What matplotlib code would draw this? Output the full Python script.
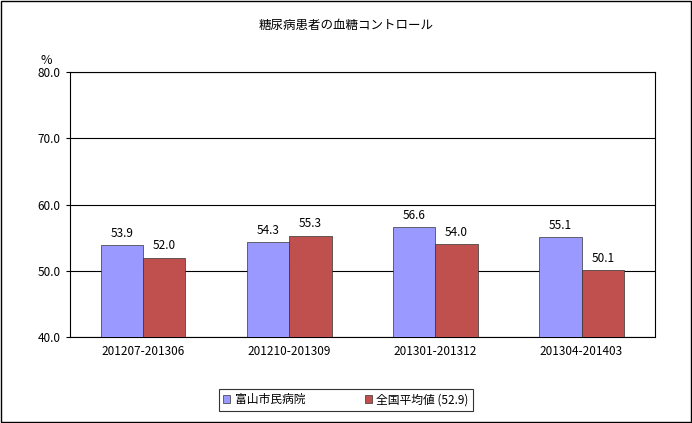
import matplotlib
matplotlib.use("Agg")
import matplotlib.pyplot as plt
import numpy as np
from matplotlib.patches import Rectangle

plt.rcParams["font.family"] = "Noto Sans CJK JP"

categories = ["201207-201306", "201210-201309", "201301-201312", "201304-201403"]
hospital = [53.9, 54.3, 56.6, 55.1]
national = [52.0, 55.3, 54.0, 50.1]
series_names = ["富山市民病院", "全国平均値 (52.9)"]
title = "糖尿病患者の血糖コントロール"

fig = plt.figure(figsize=(6.92, 4.23), dpi=100)
fig.patches.append(Rectangle((0.002, 0.002), 0.996, 0.996, transform=fig.transFigure,
                             fill=False, edgecolor="black", linewidth=1))
ax = fig.add_axes([0.101, 0.203, 0.845, 0.627])
x = np.arange(len(categories))
w = 0.29
b1 = ax.bar(x - w/2, hospital, w, color="#9999FF", edgecolor="#333333", linewidth=0.5, label=series_names[0], zorder=3)
b2 = ax.bar(x + w/2, national, w, color="#C0504D", edgecolor="#333333", linewidth=0.5, label=series_names[1], zorder=3)
for bars, vals in ((b1, hospital), (b2, national)):
    for r, v in zip(bars, vals):
        ax.text(r.get_x() + r.get_width()/2, v + 0.8, f"{v:.1f}", ha="center", va="bottom", fontsize=8.5)
ax.set_ylim(40, 80)
ax.set_xlim(-0.5, 3.5)
ax.set_yticks([40, 50, 60, 70, 80])
ax.set_yticklabels([f"{v:.1f}" for v in [40, 50, 60, 70, 80]], fontsize=8.5)
ax.set_xticks(x)
ax.set_xticklabels(categories, fontsize=8.5)
ax.tick_params(axis="x", length=0, pad=6)
ax.tick_params(axis="y", length=3, direction="out")
ax.yaxis.grid(True, color="black", linewidth=0.8, zorder=0)
for s in ax.spines.values():
    s.set_linewidth(0.8)
ax.text(-0.04, 1.03, "%", transform=ax.transAxes, fontsize=9, ha="center")
fig.text(0.5, 0.94, title, ha="center", va="center", fontsize=9)
leg = fig.legend(loc="center", bbox_to_anchor=(0.5, 0.055), ncol=2, fontsize=8.5,
                 frameon=True, fancybox=False, edgecolor="black", handlelength=0.6,
                 handleheight=0.6, columnspacing=5, handletextpad=0.4)
leg.get_frame().set_linewidth(0.8)
fig.savefig("out.png", dpi=100)
